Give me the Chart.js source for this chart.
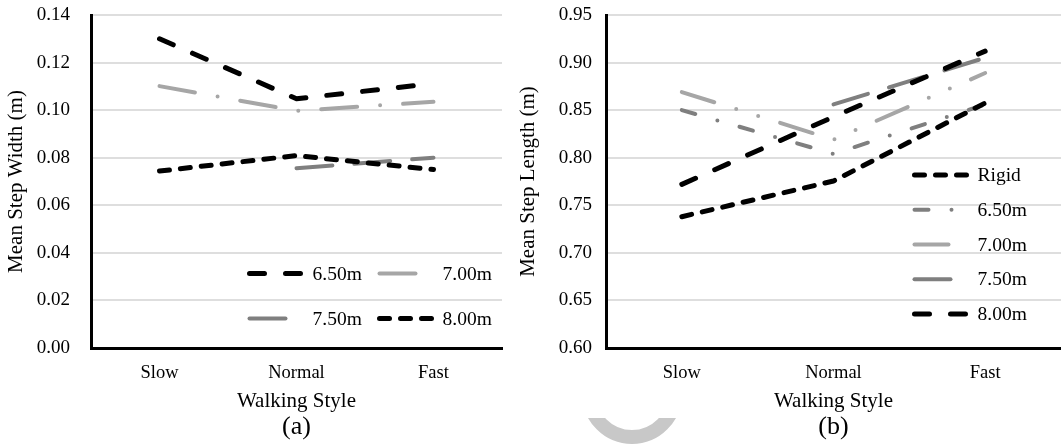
<!DOCTYPE html>
<html>
<head>
<meta charset="utf-8">
<script src="https://cdn.jsdelivr.net/npm/chart.js@4.4.0/dist/chart.umd.min.js"></script>
<style>
  html, body { margin: 0; padding: 0; background: #fff; }
  #page { position: relative; width: 1061px; height: 446px; overflow: hidden; }
  .box { position: absolute; top: 0; height: 446px; }
  #boxA { left: 0; width: 515px; }
  #boxB { left: 515px; width: 546px; }
  #arc { position: absolute; left: 575px; top: 418px; width: 115px; height: 28px; overflow: hidden; }
  #arc div { position: absolute; left: 6.5px; top: -74.5px; width: 72px; height: 72px; border: 14px solid #c8c8c8; border-radius: 50%; }
</style>
</head>
<body>
<div id="page">
  <div class="box" id="boxA"><canvas id="chartA"></canvas></div>
  <div class="box" id="boxB"><canvas id="chartB"></canvas></div>
  <div id="arc"><div></div></div>
</div>
<script>
const walkingStyles = ['Slow', 'Normal', 'Fast'];

// (a) mean step width (m)
const widthTicks = [0, 0.02, 0.04, 0.06, 0.08, 0.10, 0.12, 0.14];
const width650 = [0.130, 0.1048, 0.1112];
const width700 = [0.1101, 0.0997, 0.1035];
const width750 = [null, 0.0756, 0.0800];
const width800 = [0.0744, 0.0809, 0.0750];

// (b) mean step length (m)
const lengthTicks = [0.60, 0.65, 0.70, 0.75, 0.80, 0.85, 0.90, 0.95];
const lengthRigid = [0.738, 0.7755, 0.8575];
const length650 = [0.850, 0.804, 0.856];
const length700 = [0.869, 0.819, 0.889];
const length750 = [null, 0.856, 0.905];
const length800 = [0.772, 0.843, 0.912];

const SERIF = '"Liberation Serif", "Times New Roman", serif';
const BLACK = '#000000';
const LIGHT = '#a6a6a6';
const MID = '#7f7f7f';

const longDash = [15, 21];
const shortDash = [10, 11];
const dashDot = [36, 23, 0, 23];
const shortDashDot = [14, 23, 0, 23];
const dashDotDot = [34, 23, 0, 23, 0, 23];
const plainLong = [36, 22];

function series(label, data, color, width, dash, order) {
  return { label, data, borderColor: color, borderWidth: width, borderDash: dash, order };
}

// legend drawn inside the plot area, like the original
const insideLegend = {
  id: 'insideLegend',
  afterDraw(chart, args, opts) {
    const { ctx, chartArea } = chart;
    ctx.save();
    ctx.font = opts.font;
    ctx.textBaseline = 'middle';
    ctx.textAlign = 'left';
    chart.data.datasets.forEach((ds, i) => {
      const col = i % opts.cols;
      const row = Math.floor(i / opts.cols);
      const x = chartArea.left + opts.x + col * opts.colWidth;
      const y = chartArea.top + opts.y + row * opts.rowHeight;
      ctx.beginPath();
      ctx.setLineDash(ds.borderDash || []);
      ctx.lineCap = 'round';
      ctx.lineWidth = ds.borderWidth;
      ctx.strokeStyle = ds.borderColor;
      ctx.moveTo(x, y);
      ctx.lineTo(x + opts.sample, y);
      ctx.stroke();
      ctx.setLineDash([]);
      ctx.fillStyle = '#000';
      ctx.fillText(ds.label, x + opts.textOffset, y + 1);
    });
    ctx.restore();
  }
};

function buildChart(id, cfg) {
  return new Chart(document.getElementById(id), {
    type: 'line',
    data: { labels: walkingStyles, datasets: cfg.datasets },
    options: {
      responsive: true,
      maintainAspectRatio: false,
      animation: false,
      layout: { padding: { left: 0, right: cfg.padRight, top: 15, bottom: 0 } },
      elements: {
        point: { radius: 0 },
        line: { tension: 0, borderCapStyle: 'round', borderJoinStyle: 'round', fill: false }
      },
      plugins: {
        legend: { display: false },
        tooltip: { enabled: false },
        title: {
          display: true,
          text: cfg.caption,
          position: 'bottom',
          fullSize: false,
          color: '#000',
          font: { family: SERIF, size: 26, weight: 'normal' },
          padding: { top: -2, bottom: 3 }
        },
        insideLegend: cfg.legend
      },
      scales: {
        x: {
          offset: true,
          grid: { display: false, drawTicks: false },
          border: { display: true, color: '#000', width: 3 },
          ticks: { color: '#000', padding: 14, font: { family: SERIF, size: 18.5 } },
          title: {
            display: true,
            text: 'Walking Style',
            color: '#000',
            font: { family: SERIF, size: 21 },
            padding: { top: 0, bottom: 0 }
          },
          afterFit: s => { s.height = 65.8; }
        },
        y: {
          min: cfg.ticks[0],
          max: cfg.ticks[cfg.ticks.length - 1],
          afterBuildTicks: s => { s.ticks = cfg.ticks.map(v => ({ value: v })); },
          ticks: {
            color: '#000',
            padding: cfg.tickPad,
            font: { family: SERIF, size: 19 },
            callback: v => Number(v).toFixed(2)
          },
          grid: { color: '#dedede', lineWidth: 2, drawTicks: false },
          border: { display: true, color: '#000', width: 3 },
          title: {
            display: true,
            text: cfg.yTitle,
            color: '#000',
            font: { family: SERIF, size: 21 },
            padding: { top: cfg.titlePad, bottom: 0 }
          },
          afterFit: s => {
            s.width = cfg.yWidth;
            s.paddingTop = 0;
            s.paddingBottom = 0;
          }
        }
      }
    },
    plugins: [insideLegend]
  });
}

buildChart('chartA', {
  caption: '(a)',
  yTitle: 'Mean Step Width (m)',
  ticks: widthTicks,
  yWidth: 91,
  padRight: 13,
  tickPad: 21,
  titlePad: 4,
  datasets: [
    series('6.50m', width650, BLACK, 5, longDash, 0),
    series('7.00m', width700, LIGHT, 4, dashDot, 0),
    series('7.50m', width750, MID, 4, plainLong, 1),
    series('8.00m', width800, BLACK, 5, shortDash, 0)
  ],
  legend: { cols: 2, x: 158.5, y: 258.5, colWidth: 130, rowHeight: 45, sample: 53, textOffset: 63, font: '19.5px ' + SERIF }
});

buildChart('chartB', {
  caption: '(b)',
  yTitle: 'Mean Step Length (m)',
  ticks: lengthTicks,
  yWidth: 91,
  padRight: 0,
  tickPad: 14,
  titlePad: 1,
  datasets: [
    series('Rigid', lengthRigid, BLACK, 5, shortDash, 0),
    series('6.50m', length650, MID, 4, shortDashDot, 1),
    series('7.00m', length700, LIGHT, 4, dashDotDot, 1),
    series('7.50m', length750, MID, 4, plainLong, 1),
    series('8.00m', length800, BLACK, 5, longDash, 0)
  ],
  legend: { cols: 1, x: 308.5, y: 160, colWidth: 0, rowHeight: 34.75, sample: 55, textOffset: 63, font: '19.5px ' + SERIF }
});
</script>
</body>
</html>
